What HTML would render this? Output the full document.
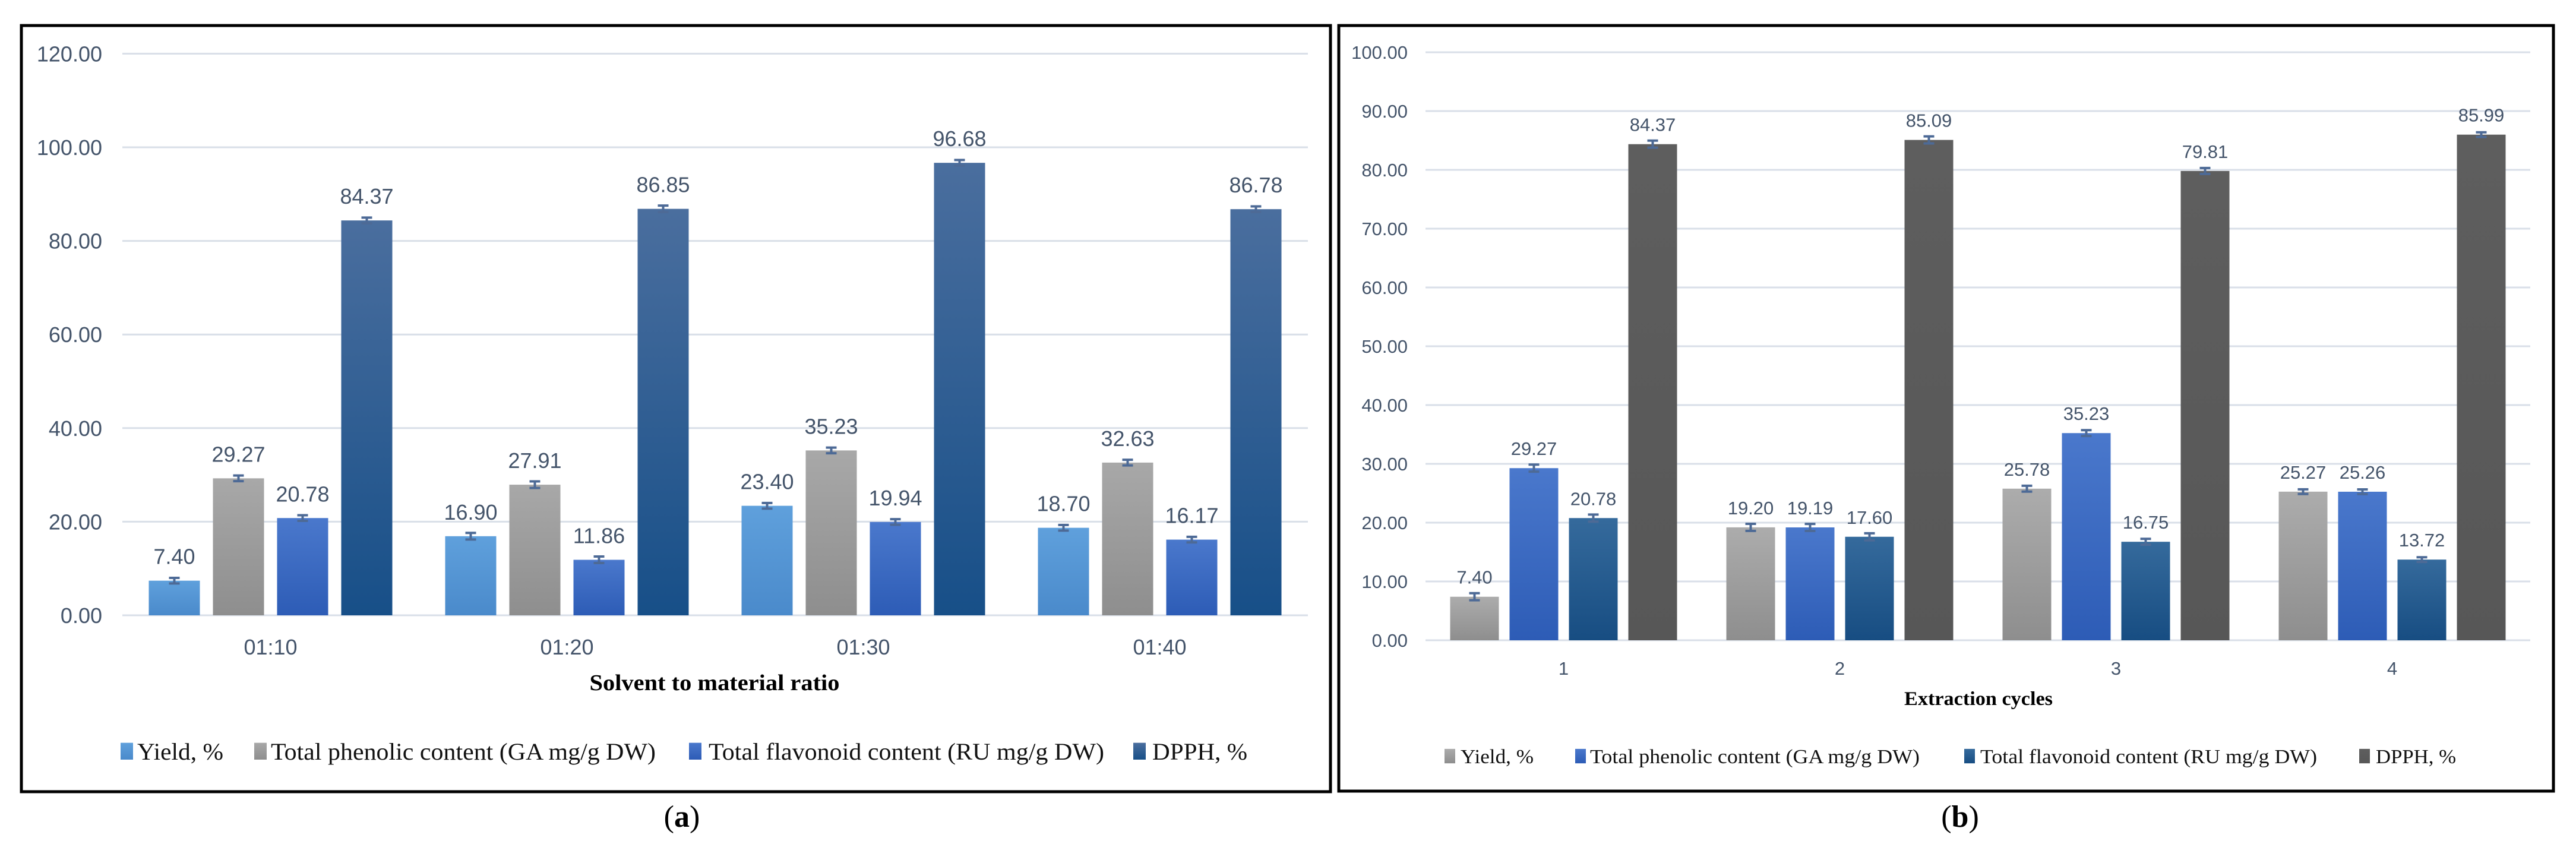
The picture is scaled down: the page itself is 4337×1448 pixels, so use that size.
<!DOCTYPE html>
<html><head><meta charset="utf-8"><style>
html,body{margin:0;padding:0;background:#fff}
svg{display:block}
</style></head><body>
<svg id="fig" width="4337" height="1448" viewBox="0 0 4337 1448" xmlns="http://www.w3.org/2000/svg" font-family="Liberation Sans, sans-serif">
<defs>
<linearGradient id="gA0" x1="0" y1="0" x2="0" y2="1"><stop offset="0" stop-color="#5fa0dc"/><stop offset="1" stop-color="#4a8acb"/></linearGradient>
<linearGradient id="gA1" x1="0" y1="0" x2="0" y2="1"><stop offset="0" stop-color="#a8a8a8"/><stop offset="1" stop-color="#8e8e8e"/></linearGradient>
<linearGradient id="gA2" x1="0" y1="0" x2="0" y2="1"><stop offset="0" stop-color="#4a78cc"/><stop offset="1" stop-color="#2d5cb6"/></linearGradient>
<linearGradient id="gA3" x1="0" y1="0" x2="0" y2="1"><stop offset="0" stop-color="#4a6e9e"/><stop offset="1" stop-color="#174f88"/></linearGradient>
<linearGradient id="gB0" x1="0" y1="0" x2="0" y2="1"><stop offset="0" stop-color="#acacac"/><stop offset="1" stop-color="#8e8e8e"/></linearGradient>
<linearGradient id="gB1" x1="0" y1="0" x2="0" y2="1"><stop offset="0" stop-color="#4a78cc"/><stop offset="1" stop-color="#2d5cb6"/></linearGradient>
<linearGradient id="gB2" x1="0" y1="0" x2="0" y2="1"><stop offset="0" stop-color="#356a9c"/><stop offset="1" stop-color="#174d82"/></linearGradient>
<linearGradient id="gB3" x1="0" y1="0" x2="0" y2="1"><stop offset="0" stop-color="#5e5e5e"/><stop offset="1" stop-color="#575757"/></linearGradient>
</defs>
<rect x="36" y="43" width="2204" height="1290" fill="none" stroke="#000" stroke-width="5"/>
<rect x="2254" y="43" width="2045" height="1289" fill="none" stroke="#000" stroke-width="5"/>
<text x="1148" y="1392" font-family="Liberation Serif, serif" font-size="52" text-anchor="middle">(<tspan font-weight="bold">a</tspan>)</text>
<text x="3300" y="1392" font-family="Liberation Serif, serif" font-size="52" text-anchor="middle">(<tspan font-weight="bold">b</tspan>)</text>
<g id="chartA"></g>
<g id="chartB"></g>
</svg>
<script>
// Panel (a)
const catsA = ["01:10","01:20","01:30","01:40"];
const yieldA = [7.40,16.90,23.40,18.70];
const phenA = [29.27,27.91,35.23,32.63];
const flavA = [20.78,11.86,19.94,16.17];
const dpphA = [84.37,86.85,96.68,86.78];
const errA = [0.6,0.7,0.6,0.6];
const ticksA = ["0.00","20.00","40.00","60.00","80.00","100.00","120.00"];
const tickValsA = [0,20,40,60,80,100,120];
// Panel (b)
const catsB = ["1","2","3","4"];
const yieldB = [7.40,19.20,25.78,25.27];
const phenB = [29.27,19.19,35.23,25.26];
const flavB = [20.78,17.60,16.75,13.72];
const dpphB = [84.37,85.09,79.81,85.99];
const errB = [0.6,0.6,0.5,0.4];
const ticksB = ["0.00","10.00","20.00","30.00","40.00","50.00","60.00","70.00","80.00","90.00","100.00"];
const tickValsB = [0,10,20,30,40,50,60,70,80,90,100];
const seriesNames = ["Yield, %","Total phenolic content (GA mg/g DW)","Total flavonoid content (RU mg/g DW)","DPPH, %"];

const NS="http://www.w3.org/2000/svg";
const SERIF="Liberation Serif, serif";
function mk(parent,tag,attrs,txt){const e=document.createElementNS(NS,tag);for(const k in attrs)e.setAttribute(k,attrs[k]);if(txt!==undefined)e.textContent=txt;parent.appendChild(e);return e;}

function draw(g,cfg){
  const y=v=>cfg.y0-v*cfg.ppu;
  const band=(cfg.x1-cfg.x0)/cfg.cats.length;
  cfg.tickVals.forEach((v,i)=>{
    const l=mk(g,"line",{x1:cfg.x0,x2:cfg.x1,y1:y(v),y2:y(v),stroke:"#d9dfe8","stroke-width":3});
    
    
    const t=mk(g,"text",{x:cfg.tickX,y:y(v)+cfg.tickFs*0.36,"font-size":cfg.tickFs,fill:"#44546a","text-anchor":"end"},cfg.ticks[i]);
    
    
  });
  const series=[cfg.s0,cfg.s1,cfg.s2,cfg.s3];
  cfg.cats.forEach((c,ci)=>{
    const cx=cfg.x0+band*(ci+0.5);
    const t=mk(g,"text",{x:cx,y:cfg.catY,"font-size":cfg.tickFs,fill:"#44546a","text-anchor":"middle"},c);
    
    
    series.forEach((s,si)=>{
      const bx=cx+(si-1.5)*cfg.pitch-cfg.bw/2;
      const v=s[ci];
      const r=mk(g,"rect",{x:bx,y:y(v),width:cfg.bw,height:v*cfg.ppu,fill:"url(#"+cfg.grad+si+")"});
      
      
      const e=cfg.err[ci], mx=bx+cfg.bw/2;
      const eb=mk(g,"path",{d:`M${mx-9},${y(v+e)}H${mx+9}M${mx},${y(v+e)}V${y(v-e)}M${mx-9},${y(v-e)}H${mx+9}`,stroke:"#4d6a96","stroke-width":4,fill:"none"});
      
      
      const dl=mk(g,"text",{x:mx,y:y(v)-cfg.lblOff,"font-size":cfg.lblFs,fill:"#44546a","text-anchor":"middle"},v.toFixed(2));
      
      
    });
  });
  const at=mk(g,"text",{x:cfg.titleX,y:cfg.titleY,"font-size":cfg.titleFs,"font-weight":"bold","text-anchor":"middle","font-family":SERIF,textLength:cfg.titleW,lengthAdjust:"spacingAndGlyphs"},cfg.title);
  
  
  cfg.leg.forEach((L,i)=>{
    const h=cfg.sq*1.35;
    const sq=mk(g,"rect",{x:L[0],y:cfg.legY+cfg.legFs*0.3-h,width:cfg.sq,height:h,fill:"url(#"+cfg.grad+i+")"});
    
    
    const lt=mk(g,"text",{x:L[1],y:cfg.legY+cfg.legFs*0.3,"font-size":cfg.legFs,"font-family":SERIF,fill:"#111",textLength:L[2],lengthAdjust:"spacingAndGlyphs"},seriesNames[i]);
    
    
  });
}
draw(document.getElementById("chartA"),{cats:catsA,s0:yieldA,s1:phenA,s2:flavA,s3:dpphA,err:errA,ticks:ticksA,tickVals:tickValsA,
  x0:206,x1:2202,y0:1036,ppu:7.88,bw:86,pitch:108,grad:"gA",tickX:172,tickFs:36,catY:1102,lblFs:36,lblOff:28,
  title:"Solvent to material ratio",titleX:1203,titleY:1162,titleFs:38,titleW:421,
  legY:1267,legFs:40,sq:21,leg:[[203,231,145],[428,456,648],[1160,1193,666],[1908,1940,160]]});
draw(document.getElementById("chartB"),{cats:catsB,s0:yieldB,s1:phenB,s2:flavB,s3:dpphB,err:errB,ticks:ticksB,tickVals:tickValsB,
  x0:2400,x1:4260,y0:1078,ppu:9.9,bw:82,pitch:100,grad:"gB",tickX:2370,tickFs:31,catY:1136,lblFs:31,lblOff:22,
  title:"Extraction cycles",titleX:3331,titleY:1187,titleFs:33,titleW:250,
  legY:1275,legFs:34,sq:18,leg:[[2432,2459,123],[2652,2677,555],[3307,3334,567],[3972,4000,135]]});
</script>
</body></html>
